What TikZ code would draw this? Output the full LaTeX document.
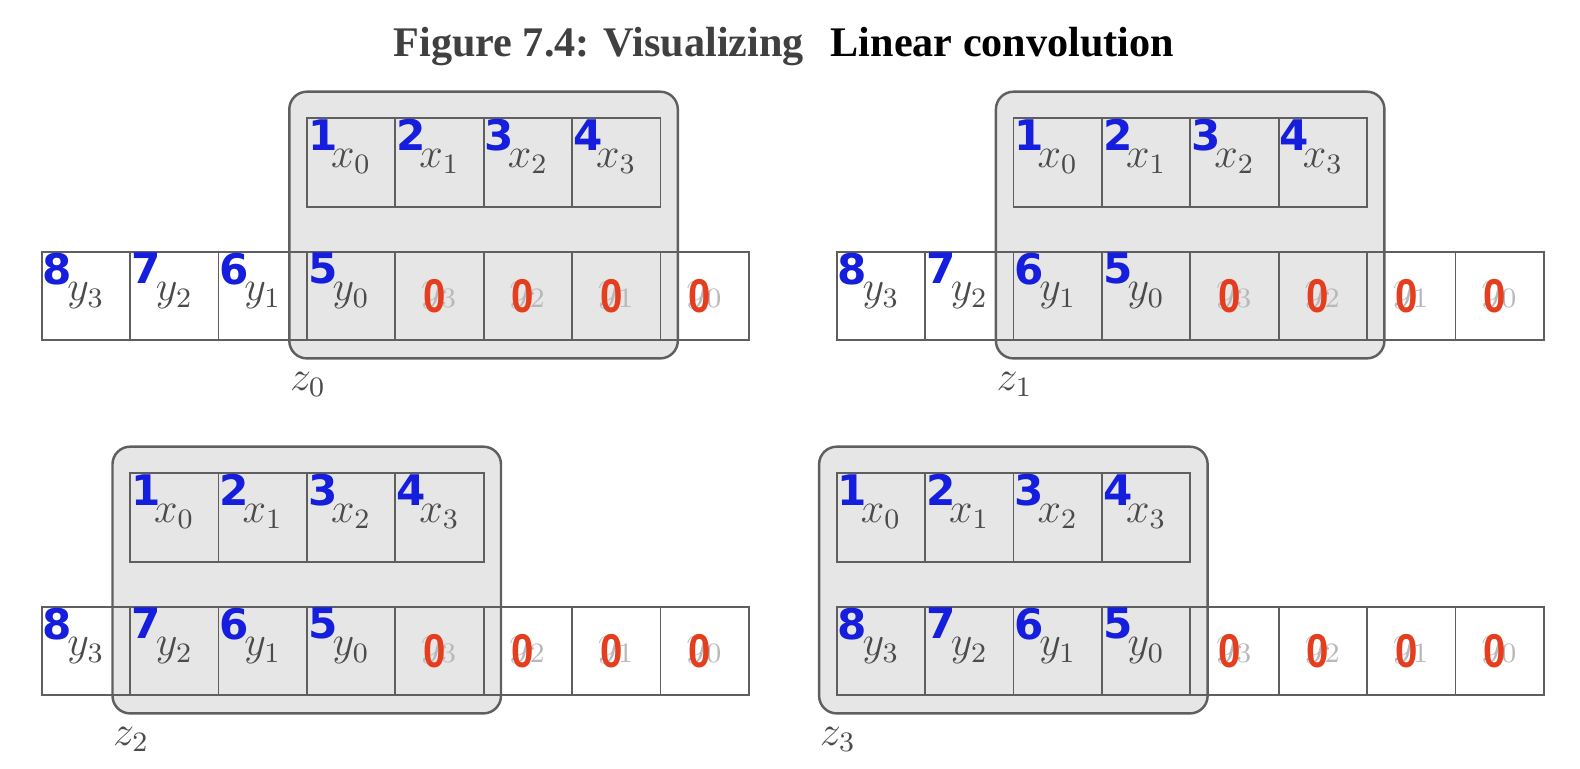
\documentclass[tikz,border=0pt]{standalone}
\usepackage{fontspec}
\newfontfamily\numfont{DejaVu Sans}
\newfontfamily\zerofont{Liberation Sans}
\newfontfamily\titlefont{Liberation Serif}

\definecolor{numblue}{RGB}{20,30,220}
\definecolor{zerored}{RGB}{228,62,30}
\definecolor{lblgray}{RGB}{75,75,75}
\definecolor{linegray}{RGB}{95,95,95}
\definecolor{winfill}{RGB}{230,230,230}

\begin{document}
\begin{tikzpicture}[
    cell/.style={draw=linegray, line width=0.5pt, minimum size=0.884cm, inner sep=0pt},
    window/.style={draw=linegray, line width=0.7pt, fill=winfill, rounded corners=5pt},
    num/.style={anchor=north west, inner sep=0.4pt, text=numblue,
                font=\numfont\bfseries\fontsize{12}{13}\selectfont},
    lbl/.style={anchor=base, inner sep=0pt, text=lblgray, font=\fontsize{12}{14}\selectfont},
    ghost/.style={lbl, text=black!28},
    zero/.style={inner sep=0pt, text=zerored, xscale=0.85,
                 font=\zerofont\bfseries\fontsize{13.5}{14}\selectfont},
    heading/.style={anchor=base west, inner sep=0pt,
                    font=\titlefont\bfseries\fontsize{12}{14}\selectfont}
]
    \useasboundingbox (0,0) rectangle (15.8,7.68);

    \node[heading, text=black!75] (title) at (3.93,7.11) {Figure 7.4: Visualizing};
    \node[heading, text=black] (topic) at (8.30,7.11) {Linear convolution};

    % one panel per output z_p, window shifted by k cells
    \foreach \p/\ox/\oy/\k in {0/0.417/5.163/3, 1/8.367/5.163/2, 2/0.417/1.613/1, 3/8.367/1.613/0} {
        \draw[window] ({\ox+0.884*\k-0.176},{\oy-1.067}) rectangle ({\ox+0.884*\k+3.709},{\oy+1.6});
        \node[lbl, anchor=base west] (z\p) at ({\ox+0.884*\k-0.176},{\oy-1.384}) {$z_\p$};

        % x row
        \foreach \i/\n in {0/1,1/2,2/3,3/4} {
            \node[cell] (x\p-\i) at ({\ox+0.884*(\k+\i)+0.442},{\oy+0.892}) {};
            \node[num] (nx\p-\i) at (x\p-\i.north west) {\n};
            \node[lbl] (lx\p-\i) at ([yshift=-0.5mm]x\p-\i.center) {$x_\i$};
        }

        % y row, flipped and padded with zeros
        \foreach \i in {0,...,7}
            \node[cell] (y\p-\i) at ({\ox+0.884*\i+0.442},{\oy-0.442}) {};
        \foreach \i/\n/\j in {0/8/3,1/7/2,2/6/1,3/5/0} {
            \node[num] (ny\p-\i) at (y\p-\i.north west) {\n};
            \node[lbl] (ly\p-\i) at ([yshift=-0.5mm]y\p-\i.center) {$y_\j$};
        }
        \foreach \i/\j in {4/3,5/2,6/1,7/0} {
            \node[ghost] (gy\p-\i) at ([yshift=-0.5mm]y\p-\i.center) {$y_\j$};
            \node[zero] (zy\p-\i) at ([xshift=-0.5mm]y\p-\i.center) {0};
        }
    }
\end{tikzpicture}
\end{document}
